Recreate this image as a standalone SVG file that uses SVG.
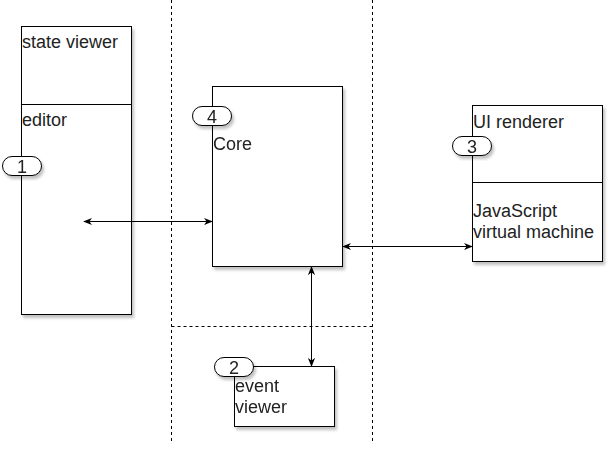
<svg xmlns="http://www.w3.org/2000/svg" width="610" height="450" viewBox="0 0 610 450">
<defs>
<filter id="sh" x="-20%" y="-20%" width="140%" height="140%">
<feGaussianBlur in="SourceAlpha" stdDeviation="1.5"/>
<feOffset dx="2" dy="3" result="b"/>
<feComponentTransfer><feFuncA type="linear" slope="0.25"/></feComponentTransfer>
<feMerge><feMergeNode/><feMergeNode in="SourceGraphic"/></feMerge>
</filter>
<marker id="ah" viewBox="0 0 10 10" refX="9" refY="5" markerWidth="9" markerHeight="9" orient="auto-start-reverse" markerUnits="userSpaceOnUse">
<path d="M0,1 L10,5 L0,9 L3,5 Z" fill="#000"/>
</marker>
</defs>
<style>
.box{fill:#fff;stroke:#000;stroke-width:1}
.dash{fill:none;stroke:#000;stroke-width:1;stroke-dasharray:3 3}
.t{font-family:"Liberation Sans",Arial,sans-serif;font-size:18px;fill:#222}
.badge{fill:#fff;stroke:#000;stroke-width:1}
.bt{font-family:"Liberation Sans",Arial,sans-serif;font-size:18px;fill:#222;text-anchor:middle}
.c{fill:none;stroke:#000;stroke-width:1;marker-start:url(#ah);marker-end:url(#ah)}
</style>
<rect width="610" height="450" fill="#fff"/>
<g id="separators">
<line class="dash" x1="171.5" y1="0" x2="171.5" y2="442"/>
<line class="dash" x1="372.5" y1="0" x2="372.5" y2="442"/>
<line class="dash" x1="171.5" y1="326.5" x2="372.5" y2="326.5"/>
</g>
<g id="left-panel" filter="url(#sh)">
<rect class="box" x="21.5" y="26.5" width="110" height="288"/>
<line x1="21.5" y1="104.5" x2="131.5" y2="104.5" stroke="#000"/>
</g>
<g id="state-viewer"><text class="t" x="22" y="48">state viewer</text></g>
<g id="editor"><text class="t" x="22" y="126">editor</text></g>
<g id="core" filter="url(#sh)">
<rect class="box" x="212.5" y="86.5" width="130" height="180"/>
<text class="t" x="213" y="150">Core</text>
</g>
<g id="right-panel" filter="url(#sh)">
<rect class="box" x="472.5" y="105.5" width="130" height="156"/>
<line x1="472.5" y1="182.5" x2="602.5" y2="182.5" stroke="#000"/>
</g>
<g id="ui-renderer"><text class="t" x="473" y="128">UI renderer</text></g>
<g id="js-vm"><text class="t" x="473" y="217">JavaScript</text><text class="t" x="473" y="238">virtual machine</text></g>
<g id="event-viewer" filter="url(#sh)">
<rect class="box" x="234.5" y="366.5" width="100" height="60"/>
<text class="t" x="235" y="392">event</text>
<text class="t" x="235" y="413">viewer</text>
</g>
<g id="connectors">
<line class="c" x1="84" y1="221.5" x2="212" y2="221.5"/>
<line class="c" x1="343" y1="246.5" x2="472" y2="246.5"/>
<line class="c" x1="311.5" y1="267" x2="311.5" y2="366"/>
</g>
<g id="badge-1" filter="url(#sh)">
<rect class="badge" x="2.5" y="156.5" width="39" height="19" rx="9.5"/>
<text class="bt" x="22" y="172.5">1</text>
</g>
<g id="badge-4" filter="url(#sh)">
<rect class="badge" x="192.5" y="106.5" width="39" height="19" rx="9.5"/>
<text class="bt" x="212" y="122.5">4</text>
</g>
<g id="badge-3" filter="url(#sh)">
<rect class="badge" x="452.5" y="136.5" width="39" height="19" rx="9.5"/>
<text class="bt" x="472" y="152.5">3</text>
</g>
<g id="badge-2" filter="url(#sh)">
<rect class="badge" x="214.5" y="357.5" width="39" height="19" rx="9.5"/>
<text class="bt" x="234" y="373.5">2</text>
</g>
</svg>
